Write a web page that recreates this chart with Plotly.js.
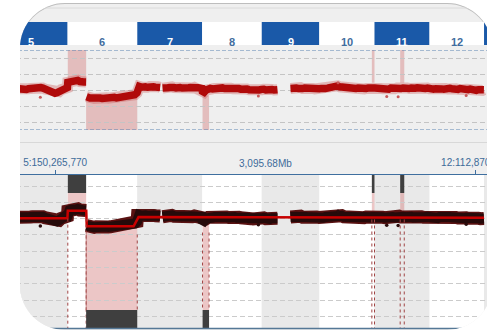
<!DOCTYPE html>
<html><head><meta charset="utf-8">
<script src="https://cdn.plot.ly/plotly-3.0.1.min.js"></script>
<style>
html,body{margin:0;padding:0;background:#fff;width:487px;height:334px;overflow:hidden;}
#frame{position:absolute;left:20px;top:3px;width:472px;height:327px;border-radius:45px;overflow:hidden;background:#efefef;box-shadow:inset 0 1px 0 #bdbdbd;}
#chart{position:absolute;left:-20px;top:-3px;width:487px;height:334px;}
</style></head><body>
<div id="frame"><div id="chart"></div></div>
<script>
// ---- chromosomes (hg19 lengths, Mb) ----
const chromosomes   = ['5','6','7','8','9','10','11','12','13'];
const chromLengthMb = [180.915,171.115,159.138,146.364,141.213,135.535,135.007,133.852,115.170];

// ---- probe log2 ratios (null = break / no probes) ----
const chr5Mb   = [60,65,70,75,80,85,90,95,100,105,110,115,120,125,130,135,140,145,150,155,160,165,170,175,180.5];
const chr5Log2 = [0.08,0.05,0.1,0.06,0.03,0.08,0.1,0.12,0.15,0.18,0.14,0.16,0.12,0.06,0.02,-0.04,-0.1,-0.16,-0.2,-0.17,-0.1,0.02,0.12,0.16,0.15];
const chr6Mb   = [0.5,5,10,15,20,25,30,35,40,45.5,null,46.5,50,55,60,65,70,75,80,85,90,95,100,105,110,115,120,125,130,135,140,145,150,155,160,165,170.5];
const chr6Log2 = [0.48,0.52,0.56,0.5,0.55,0.6,0.53,0.56,0.5,0.5,null,-0.42,-0.48,-0.5,-0.5,-0.53,-0.5,-0.47,-0.5,-0.53,-0.5,-0.48,-0.51,-0.5,-0.47,-0.46,-0.5,-0.48,-0.45,-0.44,-0.46,-0.43,-0.42,-0.4,-0.36,-0.3,-0.18];
const chr7Mb   = [0.5,5,10,15,20,25,30,35,40,45,50,56,null,62,65,70,75,80,85,90,95,100,105,110,115,120,125,130,135,140,145,150,155,158.5];
const chr7Log2 = [0.2,0.22,0.18,0.24,0.2,0.17,0.22,0.25,0.2,0.18,0.2,0.16,null,0.12,0.15,0.18,0.14,0.16,0.2,0.15,0.13,0.17,0.15,0.12,0.16,0.18,0.14,0.15,0.12,0.16,0.1,0.14,0.12,0.1];
const chr8Mb   = [0.5,5,10,15,20,25,30,35,40,45,50,55,60,65,70,75,80,85,90,95,100,105,110,115,120,125,130,135,140,146];
const chr8Log2 = [-0.08,-0.14,0.0,0.08,0.1,0.07,0.1,0.12,0.08,0.1,0.13,0.09,0.1,0.07,0.11,0.08,0.1,0.06,0.09,0.05,0.08,0.04,0.06,0.02,0.0,-0.02,0.03,-0.03,0.0,0.04];
const chr9Mb   = [0.5,5,10,15,20,25,30,35,38.5,null,70.5,75,80,85,90,95,100,105,110,115,120,125,130,135,140.5];
const chr9Log2 = [0.02,0.05,0.0,0.04,-0.02,0.03,0.0,0.05,0.02,null,0.1,0.14,0.08,0.12,0.1,0.15,0.09,0.12,0.1,0.08,0.13,0.1,0.07,0.1,0.08];
const chr10Mb  = [0.5,5,10,15,20,25,30,35,40,45,50,55,60,65,70,75,80,85,90,95,100,105,110,115,120,125,130,135];
const chr10Log2= [0.08,0.1,0.06,0.1,0.12,0.15,0.2,0.24,0.22,0.26,0.2,0.18,0.12,0.1,0.08,0.12,0.1,0.07,0.1,0.12,0.09,0.1,0.06,0.1,0.12,0.08,0.1,0.12];
const chr11Mb  = [0.5,5,10,15,20,25,30,35,40,45,50,55,60,65,70,75,80,85,90,95,100,105,110,115,120,125,130,134.5];
const chr11Log2= [0.12,0.1,0.14,0.1,0.08,0.06,0.1,0.05,0.12,0.1,0.08,0.12,0.15,0.1,0.12,0.09,0.13,0.1,0.12,0.08,0.11,0.14,0.1,0.12,0.09,0.1,0.12,0.08];
const chr12Mb  = [0.5,5,10,15,20,25,30,35,40,45,50,55,60,65,70,75,80,85,90,95,100,105,110,115,120,125,130,133.5];
const chr12Log2= [0.06,0.1,0.05,0.08,0.04,0.1,0.07,0.05,0.09,0.06,0.1,0.08,0.05,0.07,0.04,0.09,0.06,0.03,0.05,0.02,0.06,0.0,0.03,-0.02,0.02,0.0,-0.03,0.01];

// stray probes
const outlierChrom = ['5','8','10','11','11','12'];
const outlierMb    = [114,138,46,30,58,90];
const outlierLog2  = [-0.45,-0.38,0.45,-0.4,-0.42,-0.34];

// segmentation
const segChrom   = ['5','6','6','7','8','9','10','11','12'];
const segStartMb = [60,0.5,47,3,0.5,0.5,0.5,0.5,0.5];
const segEndMb   = [180.5,45.8,162,159,146,141,135.5,135,133.9];
const segLog2    = [0.03,0.48,-0.47,0.1,0.08,0.07,0.09,0.1,0.06];

// aberration calls
const aberrChrom   = ['6','6','8','10','11'];
const aberrStartMb = [0.5,45.5,1,129,63];
const aberrEndMb   = [45.5,171,17,135.5,73];
const aberrLog2    = [0.5,-0.47,-0.35,0.45,0.45];
const aberrType    = ['gain','loss','loss','gain','gain'];

// axis labels
const tickChrom = ['5','12'];
const tickMb    = [150.26577,112.870394];
const tickText  = ['5:150,265,770','12:112,870,394'];
const spanLabel = '3,095.68Mb';

// ---- build ----
const chromStart = {};
let cum = 0;
chromosomes.forEach((c,i)=>{chromStart[c]=cum; cum+=chromLengthMb[i];});
const gpos = (c,mb)=> mb==null ? null : chromStart[c]+mb;

const cloudSets = [['5',chr5Mb,chr5Log2],['6',chr6Mb,chr6Log2],['7',chr7Mb,chr7Log2],['8',chr8Mb,chr8Log2],
  ['9',chr9Mb,chr9Log2],['10',chr10Mb,chr10Log2],['11',chr11Mb,chr11Log2],['12',chr12Mb,chr12Log2]];
const cx=[], cy=[];
cloudSets.forEach(([c,mb,v])=>{mb.forEach((m,i)=>{cx.push(gpos(c,m)); cy.push(v[i]);});});
const ox = outlierChrom.map((c,i)=>gpos(c,outlierMb[i]));
const sx=[], sy=[];
segChrom.forEach((c,i)=>{sx.push(gpos(c,segStartMb[i]),gpos(c,segEndMb[i])); sy.push(segLog2[i],segLog2[i]);});

const XR=[15.0,1210.4];
const TOP=[-2.5,2.5], BOT=[-6.71,2.68];
const P = py => 1 - py/334;

const traces = [
  {type:'scatter',mode:'lines',x:cx,y:cy,xaxis:'x2',yaxis:'y',line:{color:'rgba(200,80,80,0.35)',width:11},hoverinfo:'skip'},
  {type:'scatter',mode:'lines',x:cx,y:cy,xaxis:'x2',yaxis:'y',line:{color:'#b00a0a',width:7.5},hoverinfo:'skip'},
  {type:'scatter',mode:'markers',x:ox,y:outlierLog2,xaxis:'x2',yaxis:'y',marker:{color:'#c85a5a',size:3},hoverinfo:'skip'},
  {type:'scatter',mode:'lines',x:cx,y:cy,xaxis:'x',yaxis:'y2',line:{color:'#5a1212',width:13},hoverinfo:'skip'},
  {type:'scatter',mode:'lines',x:cx,y:cy,xaxis:'x',yaxis:'y2',line:{color:'#260a0a',width:10},hoverinfo:'skip'},
  {type:'scatter',mode:'markers',x:ox,y:outlierLog2,xaxis:'x',yaxis:'y2',marker:{color:'#2a0c0c',size:3.5},hoverinfo:'skip'},
  {type:'scatter',mode:'lines',x:sx,y:sy,xaxis:'x',yaxis:'y2',line:{color:'#c80000',width:2.5},hoverinfo:'skip'}
];

const shapes=[], annotations=[];
const BLUE='#1a59a8';
chromosomes.forEach((c,i)=>{
  const x0=Math.max(chromStart[c],XR[0]), x1=Math.min(chromStart[c]+chromLengthMb[i],XR[1]);
  const odd = i%2===0;
  shapes.push({type:'rect',xref:'x',yref:'y2',x0:x0,x1:x1,y0:BOT[0],y1:BOT[1],fillcolor:odd?'#e9e9e9':'#ffffff',line:{width:0},layer:'below'});
  shapes.push({type:'rect',xref:'x',yref:'paper',x0:x0,x1:x1,y0:P(45),y1:P(22),fillcolor:odd?BLUE:'#ffffff',line:{width:0},layer:'below'});
  annotations.push({xref:'x',yref:'paper',x:chromStart[c]+chromLengthMb[i]/2,y:P(33.5),text:'<b>'+c+'</b>',showarrow:false,
    font:{family:'Liberation Sans, Arial, sans-serif',size:11,color:odd?'#ffffff':'#3f6d9e'}});
});
const PINK='rgba(210,120,120,0.42)', DARK='#3f3f3f';
aberrChrom.forEach((c,i)=>{
  const x0=gpos(c,aberrStartMb[i]), x1=gpos(c,aberrEndMb[i]), lv=aberrLog2[i];
  const gain = aberrType[i]==='gain';
  shapes.push({type:'rect',xref:'x2',yref:'y',x0,x1,y0:lv,y1:gain?TOP[1]:TOP[0],fillcolor:PINK,line:{width:0},layer:'below'});
  const edge = gain?1.57:-5.6;
  shapes.push({type:'rect',xref:'x',yref:'y2',x0,x1,y0:lv,y1:edge,fillcolor:PINK,line:{width:0},layer:'below'});
  shapes.push({type:'rect',xref:'x',yref:'y2',x0,x1,y0:edge,y1:gain?BOT[1]:BOT[0],fillcolor:DARK,line:{width:0},layer:'above'});
  [x0,x1].forEach(xx=>shapes.push({type:'line',xref:'x',yref:'y2',x0:xx,x1:xx,y0:lv-0.5,y1:gain?BOT[0]:edge,
    line:{color:'#a04444',width:1,dash:'3px,3px'},layer:'above'}));
});
[TOP[0],TOP[1]].forEach(v=>shapes.push({type:'line',xref:'paper',yref:'y',x0:0,x1:1,y0:v,y1:v,line:{color:'#5a84b2',width:1,dash:'4px,2px'},layer:'above'}));
shapes.push({type:'line',xref:'paper',yref:'paper',x0:0,x1:1,y0:P(8),y1:P(8),line:{color:'#dadada',width:1}});
shapes.push({type:'line',xref:'paper',yref:'paper',x0:0,x1:1,y0:P(142.5),y1:P(142.5),line:{color:'#d8d8d8',width:1}});
shapes.push({type:'line',xref:'paper',yref:'paper',x0:0,x1:1,y0:P(328.5),y1:P(328.5),line:{color:'#557896',width:1.5}});

annotations.push({xref:'paper',yref:'paper',x:265/487,y:P(163.5),text:spanLabel,showarrow:false,
  font:{family:'Liberation Sans, Arial, sans-serif',size:10,color:'#3d6b99'}});

const layout = {
  width:487,height:334,margin:{l:0,r:0,t:0,b:0},
  paper_bgcolor:'rgba(0,0,0,0)',plot_bgcolor:'rgba(0,0,0,0)',showlegend:false,
  xaxis:{domain:[0,1],range:XR,anchor:'y2',side:'top',showgrid:false,zeroline:false,showline:true,
    linecolor:'#3f6f9f',linewidth:1,ticks:'outside',ticklen:4,tickcolor:'#3f6f9f',
    tickvals:tickChrom.map((c,i)=>gpos(c,tickMb[i])),ticktext:tickText,ticklabeloverflow:'allow',
    tickfont:{family:'Liberation Sans, Arial, sans-serif',size:10,color:'#3d6b99'},fixedrange:true},
  xaxis2:{domain:[0,1],range:XR,matches:'x',anchor:'y',visible:false},
  yaxis:{domain:[P(130),P(50)],range:TOP,anchor:'x2',tickvals:[-2,-1,0,1,2],showticklabels:false,ticks:'',
    showgrid:true,gridcolor:'#c4c4c4',griddash:'5px,3px',zeroline:false,showline:false,fixedrange:true},
  yaxis2:{domain:[P(328),P(175)],range:BOT,anchor:'x',tickvals:[-6,-5,-4,-3,-2,-1,0,1,2],showticklabels:false,ticks:'',
    showgrid:true,gridcolor:'#cbcbcb',griddash:'5px,3px',zeroline:false,showline:false,fixedrange:true},
  shapes,annotations
};
Plotly.newPlot('chart',traces,layout,{staticPlot:true,displayModeBar:false});
</script></body></html>
